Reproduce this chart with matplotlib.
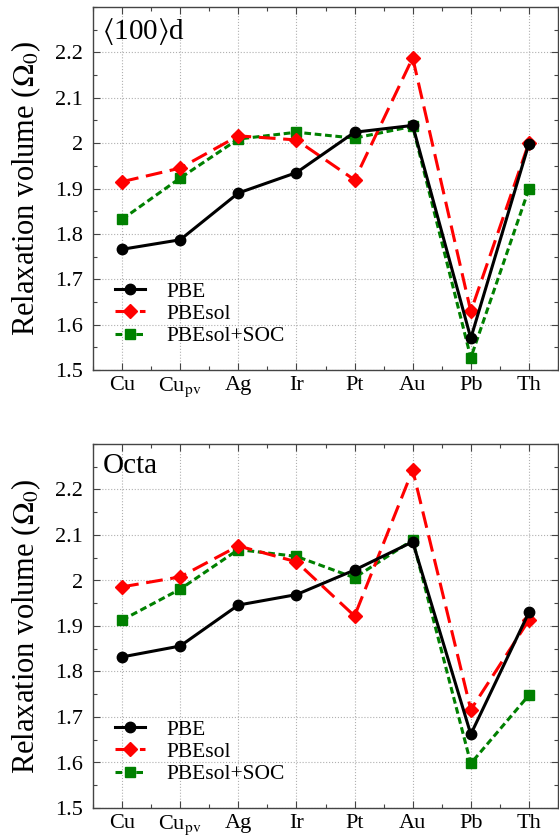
import matplotlib
matplotlib.use('Agg')
import matplotlib.pyplot as plt
from matplotlib.ticker import MultipleLocator, FixedLocator

plt.rcParams['font.family'] = ['Liberation Serif', 'DejaVu Serif']
plt.rcParams['mathtext.fontset'] = 'stix'

# elements along the x axis
elements = ['Cu', r'Cu$_{\rm pv}$', 'Ag', 'Ir', 'Pt', 'Au', 'Pb', 'Th']

# <100> dumbbell
d100_pbe = [1.766, 1.787, 1.890, 1.935, 2.024, 2.039, 1.570, 1.999]
d100_pbesol = [1.915, 1.945, 2.016, 2.007, 1.919, 2.188, 1.629, 2.001]
d100_soc = [1.832, 1.923, 2.009, 2.024, 2.011, 2.037, 1.527, 1.899]

# octahedral
octa_pbe = [1.832, 1.856, 1.946, 1.969, 2.023, 2.085, 1.662, 1.930]
octa_pbesol = [1.986, 2.008, 2.076, 2.041, 1.922, 2.243, 1.716, 1.913]
octa_soc = [1.913, 1.981, 2.068, 2.053, 2.006, 2.089, 1.598, 1.748]

panels = [
    (r'$\langle$100$\rangle$d', d100_pbe, d100_pbesol, d100_soc),
    ('Octa', octa_pbe, octa_pbesol, octa_soc),
]


def main():
    W, H = 559, 836
    fig = plt.figure(figsize=(W / 100, H / 100), dpi=100)
    boxes = [(93, 7, 558, 370), (93, 444, 558, 808)]

    for (x0, y0, x1, y1), (tag, pbe, pbesol, soc) in zip(boxes, panels):
        ax = fig.add_axes([x0 / W, 1 - y1 / H, (x1 - x0) / W, (y1 - y0) / H])
        xs = list(range(len(elements)))

        ax.plot(xs, pbe, color='black', lw=2.2, marker='o', ms=7.5,
                label='PBE', zorder=5)
        ax.plot(xs, pbesol, color='red', lw=2.2, ls=(0, (5.5, 2.5)),
                marker='D', ms=7, label='PBEsol', zorder=4)
        ax.plot(xs, soc, color='#008000', lw=2.2, ls=(0, (2.2, 1.2)),
                marker='s', ms=6.5, label='PBEsol+SOC', zorder=3)

        ax.set_xlim(-0.5, 7.5)
        ax.set_ylim(1.5, 2.3)
        ax.set_xticks(xs)
        ax.set_xticklabels(elements)
        ax.xaxis.set_minor_locator(FixedLocator([i + 0.5 for i in range(-1, 8)]))
        ax.yaxis.set_major_locator(FixedLocator([1.5, 1.6, 1.7, 1.8, 1.9, 2.0, 2.1, 2.2]))
        ax.yaxis.set_minor_locator(MultipleLocator(0.05))
        ax.set_yticklabels(['1.5', '1.6', '1.7', '1.8', '1.9', '2', '2.1', '2.2'])

        ax.tick_params(which='both', direction='in', top=True, right=True,
                       labelsize=16, color='#444444')
        ax.tick_params(which='major', length=5, width=0.8)
        ax.tick_params(which='minor', length=3, width=0.8)
        ax.tick_params(axis='x', which='major', pad=4)
        ax.tick_params(axis='y', which='major', pad=7)
        for s in ax.spines.values():
            s.set_color('#444444')
            s.set_linewidth(1.0)

        ax.grid(True, which='major', color='#b0b0b0', ls=':', lw=0.8)
        ax.set_axisbelow(True)

        ax.set_ylabel(r'Relaxation volume ($\Omega_0$)', fontsize=22, labelpad=9)
        ax.text(0.02, 0.975, tag, transform=ax.transAxes, fontsize=21,
                ha='left', va='top', zorder=6)

        ax.legend(loc='lower left', bbox_to_anchor=(0.02, 0.03), frameon=False,
                  fontsize=15.5, handlelength=1.4, handletextpad=1.0,
                  labelspacing=0.1, borderaxespad=0.2)

    fig.savefig('out.png', dpi=100)


if __name__ == '__main__':
    main()
